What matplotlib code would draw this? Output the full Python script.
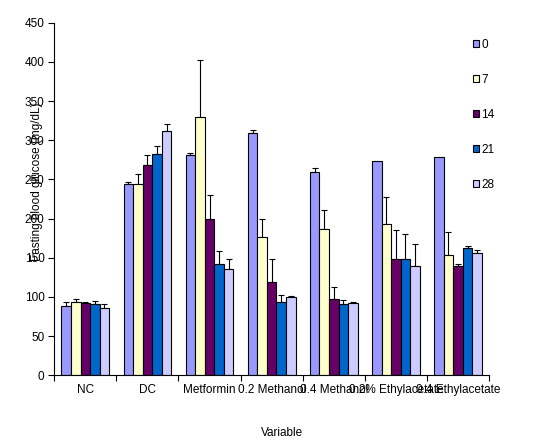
import numpy as np
import matplotlib
matplotlib.use('Agg')
import matplotlib.pyplot as plt

plt.rcParams['font.family'] = ['Liberation Sans', 'DejaVu Sans']

# ===============================================================
# data
# ===============================================================
groups = ['NC', 'DC', 'Metformin', '0.2 Methanol', '0.4 Methanol',
          '0.2% Ethylacetate', '0.4 Ethylacetate']
days = ['0', '7', '14', '21', '28']

day0 = [88, 244, 281, 309, 259, 274, 279]
day7 = [93, 244, 329, 177, 187, 193, 153]
day14 = [92, 268, 200, 119, 98, 149, 139]
day21 = [91, 282, 142, 94, 91, 149, 163]
day28 = [86, 312, 136, 100, 92, 140, 156]

err0 = [6, 3, 3, 4, 5, 0, 0]
err7 = [4, 13, 74, 22, 24, 34, 30]
err14 = [2, 13, 30, 30, 15, 37, 3]
err21 = [4, 10, 16, 9, 5, 31, 2]
err28 = [5, 9, 12, 1, 2, 28, 4]

colors = ['#9999FF', '#FFFFCC', '#660066', '#0066CC', '#CCCCFF']

# ===============================================================
# plot
# ===============================================================
fs = 8.5  # font size

fig = plt.figure(figsize=(5.51, 4.43), dpi=100)
ax = fig.add_axes([0.0985, 0.1528, 0.789, 0.796])

values = [day0, day7, day14, day21, day28]
errors = [err0, err7, err14, err21, err28]
x = np.arange(len(groups))
w = 1.0 / 6.5

for i, (vals, errs) in enumerate(zip(values, errors)):
    pos = x + (i - 2) * w
    ax.bar(pos, vals, width=w, color=colors[i], edgecolor='k', linewidth=0.8,
           label=days[i], zorder=2)
    vals = np.array(vals)
    errs = np.array(errs)
    m = errs > 0  # only upper error bars, none where error is zero
    ax.errorbar(pos[m], vals[m], yerr=[np.zeros(m.sum()), errs[m]], fmt='none',
                ecolor='k', elinewidth=0.8, capsize=2.4, capthick=0.8, zorder=1)

ax.set_xlim(-0.5, len(groups) - 0.5)
ax.set_ylim(0, 450)
ax.set_yticks(np.arange(0, 451, 50))

ax.set_xticks(x)
ax.set_xticklabels(groups)
ax.set_xticks(np.arange(-0.5, len(groups), 1), minor=True)
ax.tick_params(axis='x', which='major', length=0, pad=6, labelsize=fs)
ax.tick_params(axis='x', which='minor', length=4, width=0.8, direction='out')
ax.tick_params(axis='y', length=4, width=0.8, direction='out', pad=3, labelsize=fs)

ax.spines['top'].set_visible(False)
ax.spines['right'].set_visible(False)
ax.spines['left'].set_linewidth(0.8)
ax.spines['bottom'].set_linewidth(0.8)

ax.set_ylabel('Fasting blood glucose (mg/dL)', fontsize=fs)
ax.yaxis.set_label_coords(-0.025, 0.55)
ax.set_xlabel('Variable', fontsize=fs)
ax.xaxis.set_label_coords((282 - 54.3) / 434.7, (375.3 - 427) / 352.6)

ax.legend(loc='upper left', bbox_to_anchor=(0.858, 0.913), bbox_transform=fig.transFigure,
          frameon=False, fontsize=fs, handlelength=0.55, handleheight=0.55,
          handletextpad=0.15, labelspacing=1.95, borderpad=0, borderaxespad=0)

fig.savefig('out.png', dpi=100)
